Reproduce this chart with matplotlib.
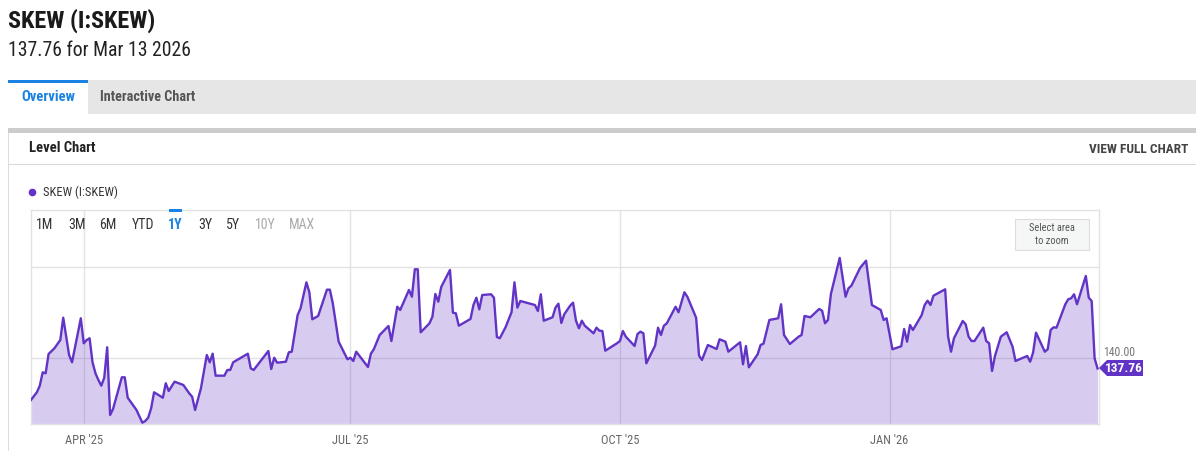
'''
    SKEW index level chart, one year of closes
'''
from datetime import datetime

import matplotlib
matplotlib.use('Agg')
import matplotlib.font_manager as fm
import matplotlib.pyplot as plt
from matplotlib.lines import Line2D
from matplotlib.patches import Polygon, Rectangle

W, H = 1196, 451

TITLE = 'SKEW (I:SKEW)'
SUBTITLE = '137.76 for Mar 13 2026'
LAST_VALUE = 137.76
TABS = ['Overview', 'Interactive Chart']
RANGES = ['1M', '3M', '6M', 'YTD', '1Y', '3Y', '5Y', '10Y', 'MAX']
MONTH_TICKS = ['2025-04-01', '2025-07-01', '2025-10-01', '2026-01-01']
MONTH_LABELS = ["APR '25", "JUL '25", "OCT '25", "JAN '26"]
GRID_LEVELS = [140, 160]

# dates and closing levels
dates = [
    '2025-03-14', '2025-03-16', '2025-03-17', '2025-03-18', '2025-03-19',
    '2025-03-20', '2025-03-22', '2025-03-24', '2025-03-25', '2025-03-27',
    '2025-03-28', '2025-03-31', '2025-04-01', '2025-04-02', '2025-04-03',
    '2025-04-04', '2025-04-05', '2025-04-06', '2025-04-07', '2025-04-08',
    '2025-04-09', '2025-04-10', '2025-04-11', '2025-04-14', '2025-04-15',
    '2025-04-16', '2025-04-19', '2025-04-21', '2025-04-22', '2025-04-23',
    '2025-04-24', '2025-04-25', '2025-04-28', '2025-04-29', '2025-04-30',
    '2025-05-02', '2025-05-05', '2025-05-07', '2025-05-08', '2025-05-09',
    '2025-05-11', '2025-05-13', '2025-05-14', '2025-05-15', '2025-05-16',
    '2025-05-19', '2025-05-20', '2025-05-21', '2025-05-22', '2025-05-27',
    '2025-05-28', '2025-05-29', '2025-06-03', '2025-06-04', '2025-06-05',
    '2025-06-06', '2025-06-09', '2025-06-10', '2025-06-11', '2025-06-13',
    '2025-06-14', '2025-06-16', '2025-06-17', '2025-06-18', '2025-06-20',
    '2025-06-23', '2025-06-24', '2025-06-25', '2025-06-27', '2025-06-30',
    '2025-07-01', '2025-07-02', '2025-07-03', '2025-07-07', '2025-07-08',
    '2025-07-09', '2025-07-11', '2025-07-14', '2025-07-15', '2025-07-17',
    '2025-07-18', '2025-07-21', '2025-07-22', '2025-07-23', '2025-07-24',
    '2025-07-25', '2025-07-28', '2025-07-29', '2025-07-30', '2025-07-31',
    '2025-08-01', '2025-08-04', '2025-08-05', '2025-08-06', '2025-08-07',
    '2025-08-11', '2025-08-12', '2025-08-13', '2025-08-14', '2025-08-15',
    '2025-08-18', '2025-08-19', '2025-08-20', '2025-08-21', '2025-08-23',
    '2025-08-25', '2025-08-26', '2025-08-27', '2025-08-28', '2025-09-02',
    '2025-09-03', '2025-09-04', '2025-09-05', '2025-09-08', '2025-09-09',
    '2025-09-10', '2025-09-11', '2025-09-12', '2025-09-14', '2025-09-15',
    '2025-09-16', '2025-09-17', '2025-09-18', '2025-09-19', '2025-09-22',
    '2025-09-23', '2025-09-24', '2025-09-25', '2025-09-26', '2025-09-30',
    '2025-10-01', '2025-10-02', '2025-10-03', '2025-10-06', '2025-10-07',
    '2025-10-08', '2025-10-09', '2025-10-10', '2025-10-13', '2025-10-14',
    '2025-10-15', '2025-10-16', '2025-10-17', '2025-10-20', '2025-10-21',
    '2025-10-23', '2025-10-24', '2025-10-27', '2025-10-28', '2025-10-29',
    '2025-10-31', '2025-11-03', '2025-11-04', '2025-11-06', '2025-11-07',
    '2025-11-11', '2025-11-12', '2025-11-13', '2025-11-14', '2025-11-17',
    '2025-11-18', '2025-11-19', '2025-11-21', '2025-11-24', '2025-11-25',
    '2025-11-26', '2025-11-28', '2025-12-01', '2025-12-02', '2025-12-03',
    '2025-12-05', '2025-12-08', '2025-12-09', '2025-12-10', '2025-12-11',
    '2025-12-12', '2025-12-15', '2025-12-17', '2025-12-18', '2025-12-19',
    '2025-12-22', '2025-12-24', '2025-12-26', '2025-12-29', '2025-12-30',
    '2025-12-31', '2026-01-02', '2026-01-05', '2026-01-06', '2026-01-07',
    '2026-01-08', '2026-01-09', '2026-01-12', '2026-01-13', '2026-01-14',
    '2026-01-15', '2026-01-16', '2026-01-20', '2026-01-21', '2026-01-22',
    '2026-01-23', '2026-01-26', '2026-01-27', '2026-01-28', '2026-01-29',
    '2026-01-30', '2026-02-02', '2026-02-03', '2026-02-04', '2026-02-05',
    '2026-02-06', '2026-02-08', '2026-02-10', '2026-02-12', '2026-02-13',
    '2026-02-17', '2026-02-18', '2026-02-19', '2026-02-20', '2026-02-23',
    '2026-02-24', '2026-02-25', '2026-02-26', '2026-02-27', '2026-03-02',
    '2026-03-03', '2026-03-04', '2026-03-05', '2026-03-06', '2026-03-09',
    '2026-03-10', '2026-03-11', '2026-03-12', '2026-03-13',
]

skew = [
    130.84, 132.53, 133.98, 136.92, 136.70, 140.95, 142.20, 144.02, 148.92, 140.73,
    139.12, 148.79, 143.30, 144.02, 144.40, 139.12, 136.70, 135.23, 133.98, 135.74,
    142.42, 127.54, 128.86, 135.82, 135.82, 131.34, 128.64, 125.85, 126.22, 126.95,
    129.01, 132.53, 131.34, 134.51, 132.81, 134.86, 134.13, 132.31, 131.56, 128.64,
    133.41, 140.73, 139.12, 141.01, 136.18, 136.18, 137.43, 137.43, 139.12, 141.01,
    137.80, 137.43, 141.60, 137.65, 140.13, 139.03, 139.25, 141.32, 141.45, 149.52,
    150.99, 156.70, 154.51, 148.57, 149.30, 155.08, 155.08, 152.09, 143.65, 139.78,
    140.13, 139.41, 141.45, 138.09, 141.01, 141.98, 145.12, 147.10, 143.80, 151.34,
    150.62, 155.01, 153.54, 159.56, 159.56, 145.71, 147.69, 149.14, 154.13, 152.44,
    155.67, 159.41, 150.02, 149.89, 147.16, 148.64, 151.71, 153.32, 150.77, 153.91,
    154.07, 153.32, 144.68, 144.40, 146.88, 150.11, 156.70, 151.12, 152.59, 151.71,
    150.40, 154.07, 148.26, 149.01, 151.12, 152.00, 147.76, 149.67, 151.56, 152.22,
    148.26, 146.59, 148.26, 147.16, 145.49, 146.73, 146.07, 146.00, 141.67, 143.30,
    143.80, 146.00, 144.75, 142.70, 145.34, 145.85, 145.49, 138.90, 142.77, 146.73,
    145.12, 147.16, 147.69, 151.34, 150.11, 154.51, 153.54, 148.92, 140.57, 139.63,
    142.92, 142.04, 144.18, 143.65, 141.45, 143.52, 138.68, 142.70, 138.02, 140.88,
    142.92, 143.21, 148.42, 148.79, 151.87, 145.12, 143.14, 144.75, 145.12, 149.30,
    149.01, 150.84, 150.46, 147.69, 148.42, 154.13, 162.05, 153.54, 155.38, 155.96,
    159.91, 161.45, 151.71, 150.62, 148.42, 148.79, 141.98, 142.64, 146.44, 143.65,
    147.32, 146.22, 149.52, 151.71, 152.66, 151.71, 153.76, 155.16, 144.75, 141.45,
    144.40, 148.20, 147.47, 144.75, 143.80, 143.80, 146.73, 143.80, 143.30, 137.21,
    140.51, 144.75, 145.71, 142.55, 139.41, 140.51, 139.25, 141.23, 145.63, 141.45,
    141.98, 146.22, 146.81, 146.73, 151.87, 152.97, 153.19, 154.07, 151.87, 158.09,
    153.32, 152.59, 140.00, 137.76,
]

PURPLE = '#6234c6'
BLUE = '#1a82e2'


def pick_family():
    ''' the page uses a condensed face; take one if the box has it'''
    for f in fm.fontManager.ttflist:
        if 'Roboto' in f.name and ('Condensed' in f.name or
                                   f.stretch in ('condensed', 'semi-condensed')):
            return [f.name, 'Roboto', 'DejaVu Sans'], f.stretch, 1.0
    for f in fm.fontManager.ttflist:
        if 'Narrow' in f.name or 'Condensed' in f.name:
            return [f.name, 'Roboto', 'DejaVu Sans'], f.stretch, 1.0
    return ['Roboto', 'DejaVu Sans'], 'normal', 0.9


FAMILY, STRETCH, K = pick_family()


def fx(x):
    ''' pixel x to figure fraction'''
    return x / W


def fy(y):
    ''' pixel y (from top) to figure fraction'''
    return 1 - y / H


def rect(fig, x0, y0, x1, y1, **kw):
    ''' rectangle in pixel coordinates'''
    fig.add_artist(Rectangle((fx(x0), fy(y1)), fx(x1) - fx(x0), fy(y0) - fy(y1),
                             transform=fig.transFigure, **kw))


def chrome(fig):
    ''' page header, tabs and panel frame'''
    fig.text(fx(8), fy(21), TITLE, fontsize=17.5 * K, fontweight='bold',
             color='#1a1a1a', va='center')
    fig.text(fx(8), fy(50), SUBTITLE, fontsize=14.2 * K, color='#222222',
             va='center')

    rect(fig, 8, 80, W, 114, facecolor='#e6e6e6', edgecolor='none')
    rect(fig, 8, 80, 88, 114, facecolor='white', edgecolor='none')
    rect(fig, 8, 80, 88, 83, facecolor=BLUE, edgecolor='none')
    fig.text(fx(48), fy(97), TABS[0], fontsize=10.5 * K, fontweight='bold',
             color=BLUE, ha='center', va='center')
    fig.text(fx(148), fy(97), TABS[1], fontsize=10.3 * K, fontweight='bold',
             color='#555555', ha='center', va='center')

    rect(fig, 8, 128, W, 133, facecolor='#cccccc', edgecolor='none')
    rect(fig, 8, 133, 9, H, facecolor='#dddddd', edgecolor='none')
    rect(fig, 9, 164, W, 165, facecolor='#d8d8d8', edgecolor='none')
    fig.text(fx(29), fy(148), 'Level Chart', fontsize=10.5 * K,
             fontweight='bold', color='#222222', va='center')
    fig.text(fx(1188), fy(150), 'VIEW FULL CHART', fontsize=9.6 * K,
             fontweight='bold', color='#444444', ha='right', va='center')

    fig.add_artist(Line2D([fx(32)], [fy(192)], marker='o', markersize=4.5,
                          color=PURPLE, transform=fig.transFigure))
    fig.text(fx(43), fy(192), 'SKEW (I:SKEW)', fontsize=9 * K, color='#333333',
             va='center')


def level_chart(fig):
    ''' the area chart itself'''
    x = [datetime.strptime(d, '%Y-%m-%d') for d in dates]
    ax = fig.add_axes([fx(31), fy(424), fx(1099) - fx(31), fy(210) - fy(424)])
    ax.set_xlim(datetime(2025, 3, 14), datetime(2026, 3, 13, 12))
    ax.set_ylim(125.56, 172.59)

    ax.fill_between(x, skew, 125.56, color=PURPLE, alpha=0.25, lw=0, zorder=2)
    ax.plot(x, skew, color=PURPLE, lw=1.7, zorder=3, solid_joinstyle='round')

    for lvl in GRID_LEVELS:
        ax.axhline(lvl, color='#e2e2e2', lw=1, zorder=1)
    ticks = [datetime.strptime(d, '%Y-%m-%d') for d in MONTH_TICKS]
    for t in ticks:
        ax.axvline(t, color='#e2e2e2', lw=1, zorder=1)
    ax.set_xticks(ticks)
    ax.set_xticklabels(MONTH_LABELS)
    ax.tick_params(axis='x', length=0, pad=7, labelsize=9 * K,
                   labelcolor='#666666')
    ax.set_yticks([])
    for side in ax.spines.values():
        side.set_color('#e2e2e2')
        side.set_linewidth(1)

    # range selector buttons
    xs = [45, 77, 108, 143, 175, 205, 233, 265, 302]
    for label, xpos in zip(RANGES, xs):
        col, wt = '#333333', 'normal'
        if label == '1Y':
            col, wt = BLUE, 'bold'
            rect(fig, 169, 209, 182, 212, facecolor=BLUE, edgecolor='none')
        elif label in ('10Y', 'MAX'):
            col = '#aaaaaa'
        fig.text(fx(xpos), fy(225), label, fontsize=10 * K, color=col,
                 fontweight=wt, ha='center', va='center')

    rect(fig, 1015, 219, 1089, 250, facecolor='#f5f7f7', edgecolor='#dddddd',
         lw=0.8)
    fig.text(fx(1052), fy(228), 'Select area', fontsize=7.5 * K,
             color='#555555', ha='center', va='center')
    fig.text(fx(1052), fy(241), 'to zoom', fontsize=7.5 * K, color='#555555',
             ha='center', va='center')

    # right side labels
    fig.text(fx(1103), fy(352), '140.00', fontsize=8.5 * K, color='#777777',
             va='center', ha='left')
    tag = Polygon([(fx(1099), fy(368)), (fx(1107), fy(360)), (fx(1143), fy(360)),
                   (fx(1143), fy(376)), (fx(1107), fy(376))],
                  closed=True, transform=fig.transFigure, facecolor=PURPLE,
                  edgecolor='none')
    fig.add_artist(tag)
    fig.text(fx(1124), fy(368), f'{LAST_VALUE:.2f}', fontsize=9.5 * K,
             fontweight='bold', color='white', ha='center', va='center')


def main():
    ''' build and save'''
    plt.rcParams['font.family'] = FAMILY
    plt.rcParams['font.stretch'] = STRETCH
    fig = plt.figure(figsize=(W / 100, H / 100), dpi=100)
    chrome(fig)
    level_chart(fig)
    fig.savefig('out.png', dpi=100)


if __name__ == '__main__':
    main()
